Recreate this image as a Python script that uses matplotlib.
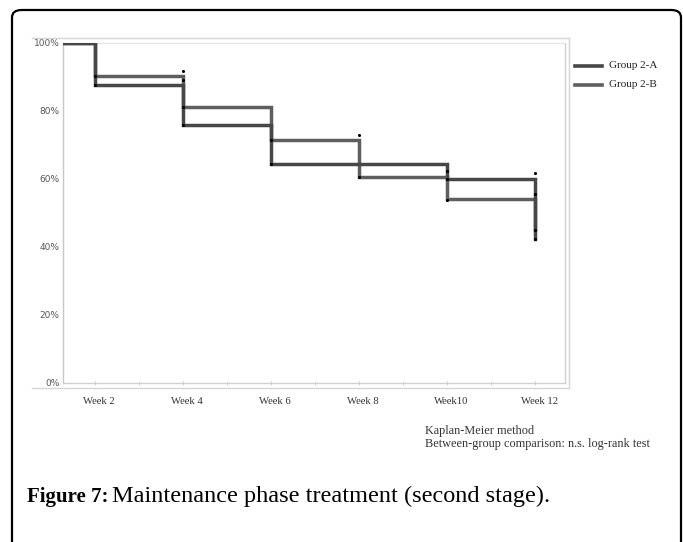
import matplotlib
matplotlib.use("Agg")
import matplotlib.pyplot as plt
from matplotlib.patches import FancyBboxPatch
from matplotlib.lines import Line2D
from matplotlib.transforms import ScaledTranslation

# ---- data ----
weeks = [0, 2, 4, 6, 8, 10, 12]
group_a = [100, 87.6, 75.7, 64.2, 64.2, 59.8, 42.2]
group_b = [100, 90.2, 81.2, 71.3, 60.6, 53.9, 45.0]
censor_weeks = [2, 2, 4, 4, 4, 4, 6, 6, 8, 8, 10, 10, 10, 12, 12, 12, 12]
censor_vals = [90.2, 87.6, 91.7, 89.0, 81.2, 75.7, 71.3, 64.2, 72.8, 60.6,
               62.1, 59.9, 53.8, 61.6, 55.5, 45.0, 42.2]
tick_weeks = [2, 4, 6, 8, 10, 12]
tick_labels = ["Week 2", "Week 4", "Week 6", "Week 8", "Week10", "Week 12"]
y_ticks = [0, 20, 40, 60, 80, 100]
series_names = ["Group 2-A", "Group 2-B"]
series_colors = ["#474747", "#5e5e5e"]

W, H = 683, 542
fig = plt.figure(figsize=(W / 100, H / 100), dpi=100)

def fx(px):
    return px / W

def fy(py):
    return 1 - py / H

# outer rounded black frame (bottom runs off the image)
frame = FancyBboxPatch((fx(12), fy(580)), fx(681) - fx(12), fy(10) - fy(580),
                       boxstyle="round,pad=0,rounding_size=0.014",
                       transform=fig.transFigure, fill=False,
                       edgecolor="black", linewidth=1.6, clip_on=False)
fig.patches.append(frame)

# outer light gray chart frame
gray = "#d6d6d6"
for (x0, y0, x1, y1) in [(31.7, 38.3, 569, 38.3), (31.7, 387.7, 569, 387.7),
                         (569, 38.3, 569, 387.7)]:
    fig.add_artist(Line2D([fx(x0), fx(x1)], [fy(y0), fy(y1)], transform=fig.transFigure,
                          color=gray, linewidth=1.0))

left, right, top, bottom = 62.5, 565, 42.7, 382.5
ax = fig.add_axes([fx(left), fy(bottom), fx(right) - fx(left), fy(top) - fy(bottom)])

ax.step(weeks, group_b, where="post", color=series_colors[1], linewidth=2.5,
        solid_joinstyle="miter", zorder=3)
ax.step(weeks, group_a, where="post", color=series_colors[0], linewidth=2.5,
        solid_joinstyle="miter", zorder=3)
ax.scatter(censor_weeks, censor_vals, s=5, color="black", zorder=4, linewidths=0)

ax.set_xlim(1.26, 12.68)
ax.set_ylim(0, 100)
ax.set_xticks(tick_weeks)
ax.set_xticklabels(tick_labels, family="Liberation Serif", fontsize=7.7, color="#333333")
ax.set_xticks([3, 5, 7, 9, 11], minor=True)
ax.set_yticks(y_ticks)
ax.set_yticklabels([f"{v}%" for v in y_ticks], family="DejaVu Sans", fontsize=6.5,
                   color="#555555")
ax.tick_params(axis="y", length=0, pad=2)
ax.tick_params(axis="x", which="both", length=3, color="#cfcfcf", direction="inout",
               pad=9)
for lab in ax.get_xticklabels():
    lab.set_transform(lab.get_transform() + ScaledTranslation(4 / 100, 0, fig.dpi_scale_trans))

for side, c in [("left", "#c8c8c8"), ("bottom", "#d0d0d0"), ("right", "#d0d0d0"),
                ("top", "#e6e6e6")]:
    ax.spines[side].set_color(c)
    ax.spines[side].set_linewidth(1.0)

# legend (drawn manually for exact placement)
for i, (name, col) in enumerate(zip(series_names, series_colors)):
    yy = 66 + i * 18.5
    fig.add_artist(Line2D([fx(575), fx(602)], [fy(yy), fy(yy)], transform=fig.transFigure,
                          color=col, linewidth=2.6))
    fig.text(fx(609), fy(yy), name, family="Liberation Serif", fontsize=8,
             color="#222222", va="center", ha="left")

fig.text(fx(425), fy(431), "Kaplan-Meier method", family="Liberation Serif",
         fontsize=8.8, color="#333333", va="center", ha="left")
fig.text(fx(425), fy(444.5), "Between-group comparison: n.s. log-rank test",
         family="Liberation Serif", fontsize=8.8, color="#333333", va="center", ha="left")

t1 = fig.text(fx(27), fy(501.7), "Figure 7:", family="Liberation Serif", fontsize=15,
              fontweight="bold", color="black", va="baseline", ha="left")
fig.canvas.draw()
bb = t1.get_window_extent()
fig.text(bb.x1 / W + fx(4), fy(501.7), "Maintenance phase treatment (second stage).",
         family="Liberation Serif", fontsize=17.5, color="black", va="baseline", ha="left")

fig.savefig("out.png", dpi=100)
